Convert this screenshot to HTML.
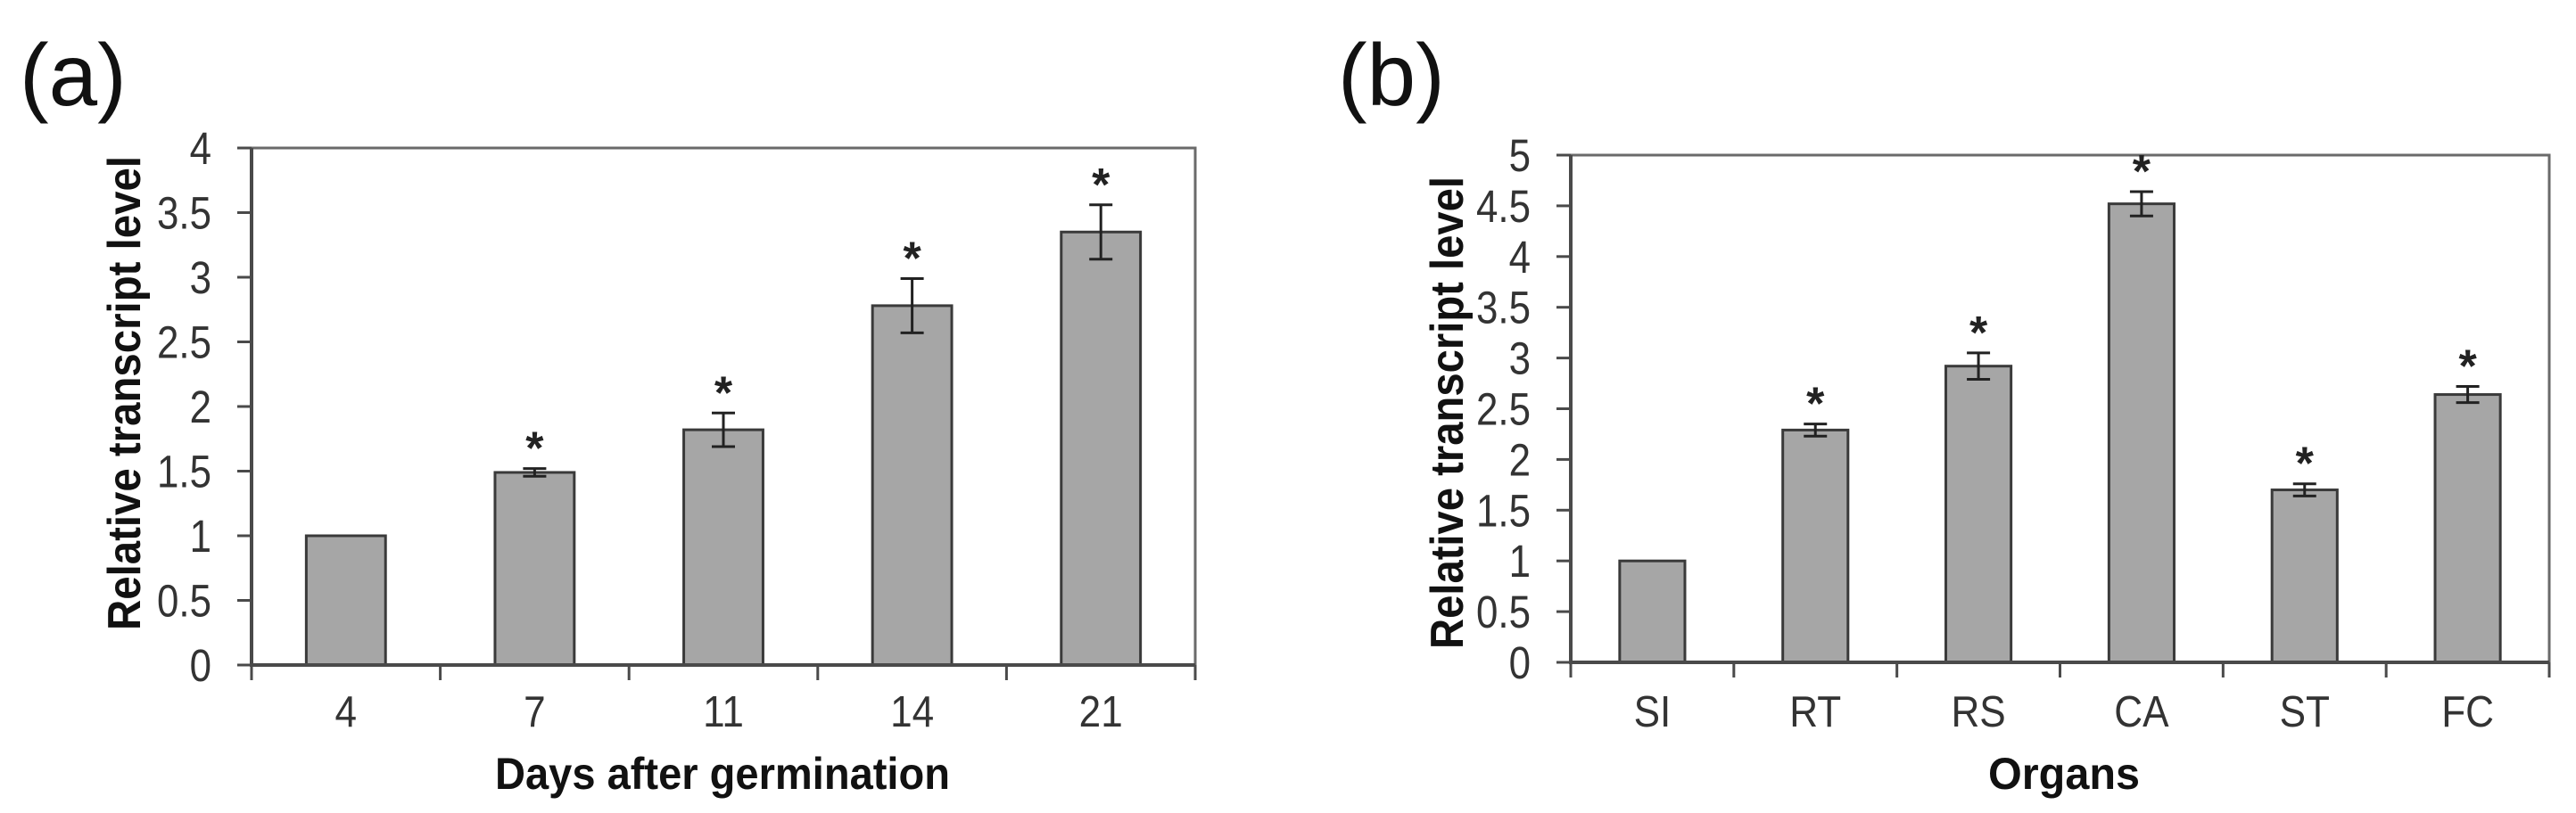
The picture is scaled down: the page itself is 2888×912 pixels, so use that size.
<!DOCTYPE html>
<html><head><meta charset="utf-8"><style>
html,body{margin:0;padding:0;background:#fff;}
svg{display:block;}
text{font-family:"Liberation Sans",Arial,sans-serif;}
</style></head><body>
<svg id="fig" width="2888" height="912" viewBox="0 0 2888 912" xmlns="http://www.w3.org/2000/svg">
<text x="22" y="118" font-size="98" fill="#111">(a)</text>
<text x="1500" y="118" font-size="98" fill="#111">(b)</text>
<text transform="translate(157,441) rotate(-90)" text-anchor="middle" font-size="52" font-weight="bold" textLength="532" lengthAdjust="spacingAndGlyphs" fill="#111">Relative transcript level</text>
<text transform="translate(1640,463) rotate(-90)" text-anchor="middle" font-size="52" font-weight="bold" textLength="530" lengthAdjust="spacingAndGlyphs" fill="#111">Relative transcript level</text>
<text x="810" y="885" text-anchor="middle" font-size="50" font-weight="bold" textLength="510" lengthAdjust="spacingAndGlyphs" fill="#111">Days after germination</text>
<text x="2314" y="885" text-anchor="middle" font-size="50" font-weight="bold" textLength="170" lengthAdjust="spacingAndGlyphs" fill="#111">Organs</text>
<g id="pa"></g>
<g id="pb"></g>
</svg>
<script>
const catsA = ["4","7","11","14","21"];
const valsA = [1.0, 1.49, 1.82, 2.78, 3.35];
const errA = [0, 0.03, 0.13, 0.21, 0.21];
const starA = [false, true, true, true, true];
const ticksA = [0,0.5,1,1.5,2,2.5,3,3.5,4];

const catsB = ["SI","RT","RS","CA","ST","FC"];
const valsB = [1.0, 2.29, 2.92, 4.52, 1.70, 2.64];
const errB = [0, 0.06, 0.13, 0.12, 0.06, 0.08];
const starB = [false, true, true, true, true, true];
const ticksB = [0,0.5,1,1.5,2,2.5,3,3.5,4,4.5,5];

const NS = "http://www.w3.org/2000/svg";
function mk(parent, tag, attrs){
  const e = document.createElementNS(NS, tag);
  for (const k in attrs) e.setAttribute(k, attrs[k]);
  parent.appendChild(e);
  return e;
}
function draw(gid, cfg, cats, vals, errs, stars, ticks){
  const g = document.getElementById(gid);
  const {x0,x1,y0,yTop,ymax,barFrac} = cfg;
  const yS = v => y0 - (v/ymax)*(y0-yTop);
  const bw = (x1-x0)/cats.length;
  const xC = i => x0 + bw*(i+0.5);
  // frame top/right
  const fr = mk(g,'path',{d:`M${x0} ${yTop} H${x1} V${y0}`,fill:'none',stroke:'#6a6a6a','stroke-width':3});
  
  
  // y ticks & labels
  ticks.forEach(t=>{
    const y = yS(t);
    const tk = mk(g,'line',{x1:x0-16,x2:x0,y1:y,y2:y,stroke:'#4a4a4a','stroke-width':3});
    
    
    const tl = mk(g,'text',{transform:`translate(${x0-45},${y+18}) scale(0.86,1)`,'text-anchor':'end','font-size':51,fill:'#333'});
    tl.textContent = String(t);
    
    
  });
  // bars
  cats.forEach((c,i)=>{
    const w = bw*barFrac, xc = xC(i), v = vals[i];
    const b = mk(g,'rect',{x:xc-w/2,y:yS(v),width:w,height:y0-yS(v),fill:'#a6a6a6',stroke:'#3a3a3a','stroke-width':3});
    
    
    if (errs[i]>0){
      const hi = yS(v+errs[i]), lo = yS(v-errs[i]);
      const eb = mk(g,'path',{d:`M${xc} ${hi} V${lo} M${xc-13} ${hi} H${xc+13} M${xc-13} ${lo} H${xc+13}`,stroke:'#222','stroke-width':3,fill:'none'});
      
      
    }
    if (stars[i]){
      const sy = yS(v+errs[i]) - 35;
      const st = mk(g,'text',{x:xc,y:sy+30,'text-anchor':'middle','font-size':52,'font-weight':'bold',fill:'#222'});
      st.textContent = '*';
      
      
    }
    const xl = mk(g,'text',{transform:`translate(${xc},815) scale(0.9,1)`,'text-anchor':'middle','font-size':49,fill:'#333'});
    xl.textContent = c;
    
    
  });
  // x ticks
  for (let i=0;i<=cats.length;i++){
    const x = x0 + bw*i;
    const xt = mk(g,'line',{x1:x,x2:x,y1:y0,y2:y0+17,stroke:'#4a4a4a','stroke-width':3});
    
    
  }
  // axes
  const ax = mk(g,'path',{d:`M${x0} ${yTop} V${y0} H${x1}`,fill:'none',stroke:'#4a4a4a','stroke-width':4});
  
  
}
draw('pa',{x0:282,x1:1340,y0:746,yTop:166,ymax:4,barFrac:0.42},catsA,valsA,errA,starA,ticksA);
draw('pb',{x0:1761,x1:2858,y0:743,yTop:174,ymax:5,barFrac:0.40},catsB,valsB,errB,starB,ticksB);
</script>
</body></html>
